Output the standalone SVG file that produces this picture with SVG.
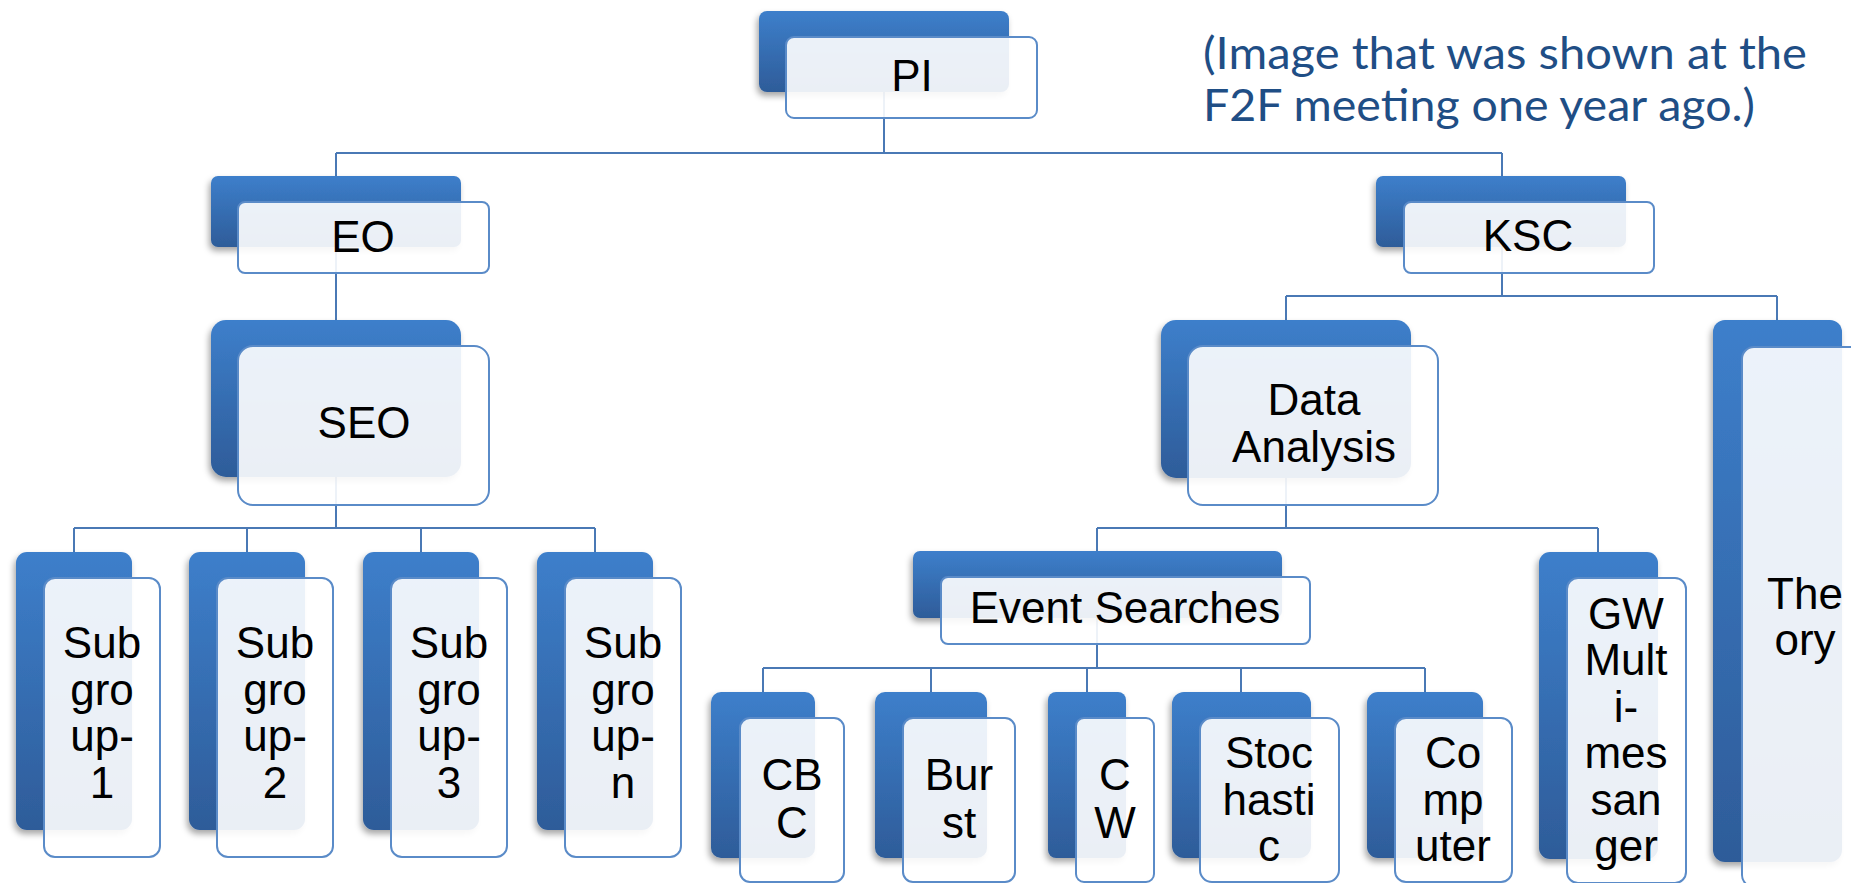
<svg xmlns="http://www.w3.org/2000/svg" width="1851" height="883" viewBox="0 0 1851 883">
<defs>
<linearGradient id="dg" x1="0" y1="0" x2="0" y2="1">
<stop offset="0" stop-color="#3D7FCB"/>
<stop offset="1" stop-color="#2E5C99"/>
</linearGradient>
<filter id="sh" x="-20%" y="-20%" width="140%" height="140%">
<feDropShadow dx="-2" dy="4" stdDeviation="3" flood-color="#000" flood-opacity="0.35"/>
</filter>
</defs>
<style>
.d{fill:url(#dg);filter:url(#sh)}
.l{fill:#ffffff;fill-opacity:0.9;stroke:#5A8BC8;stroke-width:2}
.c{fill:none;stroke:#4A79B5;stroke-width:2}
.t{font-family:"Liberation Sans",Arial,sans-serif;font-size:44px;fill:#000;text-anchor:middle}
.n{font-family:Lato,"Open Sans",sans-serif;font-size:44px;fill:#1F4E85}
</style>
<rect width="1851" height="883" fill="#ffffff"/>
<g id="connectors">
<path class="c" d="M884,92V153M336,153H1502M336,153V176M1502,153V176"/>
<path class="c" d="M336,247V320"/>
<path class="c" d="M336,477V528M74,528H595M74,528V552M247,528V552M421,528V552M595,528V552"/>
<path class="c" d="M1502,247V296M1286,296H1777M1286,296V320M1777,296V320"/>
<path class="c" d="M1286,478V528M1097,528H1598M1097,528V551M1598,528V552"/>
<path class="c" d="M1097,618V668M763,668H1425M763,668V692M931,668V692M1087,668V692M1241,668V692M1425,668V692"/>
</g>
<g id="node-pi">
<rect class="d" x="759" y="11" width="250" height="81" rx="8"/>
<rect class="l" x="786" y="37" width="251" height="81" rx="8"/>
<text class="t" x="912" y="91">PI</text>
</g>
<g id="node-eo">
<rect class="d" x="211" y="176" width="250" height="71" rx="7"/>
<rect class="l" x="238" y="202" width="251" height="71" rx="7"/>
<text class="t" x="363" y="252">EO</text>
</g>
<g id="node-ksc">
<rect class="d" x="1376" y="176" width="250" height="71" rx="7"/>
<rect class="l" x="1404" y="202" width="250" height="71" rx="7"/>
<text class="t" x="1528" y="251">KSC</text>
</g>
<g id="node-seo">
<rect class="d" x="211" y="320" width="250" height="157" rx="15"/>
<rect class="l" x="238" y="346" width="251" height="159" rx="15"/>
<text class="t" x="364" y="438">SEO</text>
</g>
<g id="node-data-analysis">
<rect class="d" x="1161" y="320" width="250" height="158" rx="15"/>
<rect class="l" x="1188" y="346" width="250" height="159" rx="15"/>
<text class="t" x="1314" y="415">Data</text>
<text class="t" x="1314" y="462">Analysis</text>
</g>
<g id="node-subgroup-1">
<rect class="d" x="16" y="552" width="116" height="278" rx="11"/>
<rect class="l" x="44" y="578" width="116" height="279" rx="11"/>
<text class="t" x="102" y="658">Sub</text><text class="t" x="102" y="705">gro</text><text class="t" x="102" y="751">up-</text><text class="t" x="102" y="798">1</text>
</g>
<g id="node-subgroup-2">
<rect class="d" x="189" y="552" width="116" height="278" rx="11"/>
<rect class="l" x="217" y="578" width="116" height="279" rx="11"/>
<text class="t" x="275" y="658">Sub</text><text class="t" x="275" y="705">gro</text><text class="t" x="275" y="751">up-</text><text class="t" x="275" y="798">2</text>
</g>
<g id="node-subgroup-3">
<rect class="d" x="363" y="552" width="116" height="278" rx="11"/>
<rect class="l" x="391" y="578" width="116" height="279" rx="11"/>
<text class="t" x="449" y="658">Sub</text><text class="t" x="449" y="705">gro</text><text class="t" x="449" y="751">up-</text><text class="t" x="449" y="798">3</text>
</g>
<g id="node-subgroup-n">
<rect class="d" x="537" y="552" width="116" height="278" rx="11"/>
<rect class="l" x="565" y="578" width="116" height="279" rx="11"/>
<text class="t" x="623" y="658">Sub</text><text class="t" x="623" y="705">gro</text><text class="t" x="623" y="751">up-</text><text class="t" x="623" y="798">n</text>
</g>
<g id="node-event-searches">
<rect class="d" x="913" y="551" width="369" height="67" rx="7"/>
<rect class="l" x="941" y="577" width="369" height="67" rx="7"/>
<text class="t" x="1125" y="623">Event Searches</text>
</g>
<g id="node-cbc">
<rect class="d" x="711" y="692" width="104" height="166" rx="10"/>
<rect class="l" x="740" y="718" width="104" height="164" rx="10"/>
<text class="t" x="792" y="790">CB</text><text class="t" x="792" y="838">C</text>
</g>
<g id="node-burst">
<rect class="d" x="875" y="692" width="112" height="166" rx="10"/>
<rect class="l" x="903" y="718" width="112" height="164" rx="10"/>
<text class="t" x="959" y="790">Bur</text><text class="t" x="959" y="838">st</text>
</g>
<g id="node-cw">
<rect class="d" x="1048" y="692" width="78" height="166" rx="8"/>
<rect class="l" x="1076" y="718" width="78" height="164" rx="8"/>
<text class="t" x="1115" y="790">C</text><text class="t" x="1115" y="838">W</text>
</g>
<g id="node-stochastic">
<rect class="d" x="1172" y="692" width="139" height="166" rx="12"/>
<rect class="l" x="1200" y="718" width="139" height="164" rx="12"/>
<text class="t" x="1269" y="768">Stoc</text><text class="t" x="1269" y="815">hasti</text><text class="t" x="1269" y="861">c</text>
</g>
<g id="node-computer">
<rect class="d" x="1367" y="692" width="116" height="166" rx="11"/>
<rect class="l" x="1395" y="718" width="117" height="164" rx="11"/>
<text class="t" x="1453" y="768">Co</text><text class="t" x="1453" y="815">mp</text><text class="t" x="1453" y="861">uter</text>
</g>
<g id="node-gw">
<rect class="d" x="1539" y="552" width="119" height="307" rx="11"/>
<rect class="l" x="1567" y="578" width="119" height="305" rx="11"/>
<text class="t" x="1626" y="629">GW</text><text class="t" x="1626" y="675">Mult</text><text class="t" x="1626" y="722">i-</text><text class="t" x="1626" y="768">mes</text><text class="t" x="1626" y="815">san</text><text class="t" x="1626" y="861">ger</text>
</g>
<g id="node-theory">
<rect class="d" x="1713" y="320" width="129" height="542" rx="12"/>
<rect class="l" x="1742" y="347" width="129" height="540" rx="12"/>
<text class="t" x="1805" y="609">The</text><text class="t" x="1805" y="655">ory</text>
</g>
<g id="note">
<text class="n" x="1203" y="69" textLength="604" lengthAdjust="spacingAndGlyphs">(Image that was shown at the</text>
<text class="n" x="1203" y="121" textLength="552" lengthAdjust="spacingAndGlyphs">F2F meeting one year ago.)</text>
</g>
</svg>
